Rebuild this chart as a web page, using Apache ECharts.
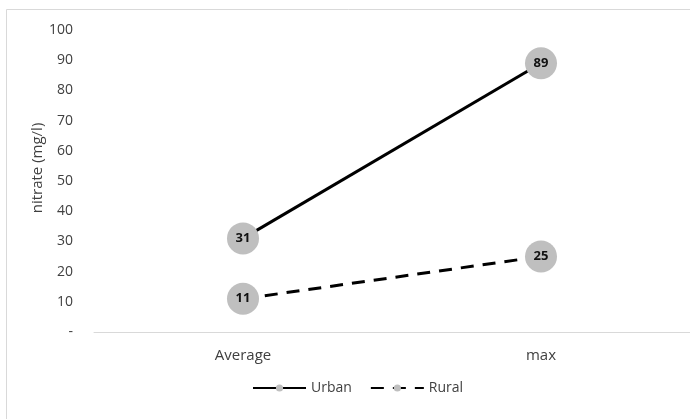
<!DOCTYPE html>
<html>
<head>
<meta charset="utf-8">
<script src="https://cdn.jsdelivr.net/npm/echarts@6/dist/echarts.min.js"></script>
<style>
  html, body { margin: 0; padding: 0; background: #fff; }
  #chart { width: 690px; height: 419px; }
</style>
</head>
<body>
<div id="chart"></div>
<script>
// Nitrate concentration, urban vs rural
const categories = ['Average', 'max'];
const urbanValues = [31, 89];
const ruralValues = [11, 25];
const yTickLabels = { 0: '-' };

const font = '"Open Sans", "Noto Sans", sans-serif';
const textColor = '#404040';
const chart = echarts.init(document.getElementById('chart'), null, { renderer: 'canvas' });

const pointLabel = {
  show: true,
  position: 'inside',
  color: '#111',
  fontWeight: 'bold',
  fontSize: 13,
  fontFamily: font
};

chart.setOption({
  animation: false,
  backgroundColor: '#fff',
  graphic: [
    {
      type: 'rect',
      shape: { x: 6.5, y: 9.5, width: 720, height: 440 },
      style: { fill: 'none', stroke: '#d9d9d9', lineWidth: 1 },
      silent: true
    },
    {
      type: 'text',
      x: 38,
      y: 168,
      rotation: Math.PI / 2,
      style: {
        text: 'nitrate (mg/l)',
        fill: textColor,
        font: '15px ' + font,
        align: 'center',
        verticalAlign: 'middle'
      }
    }
  ],
  grid: { left: 94, width: 602, top: 30, bottom: 87, containLabel: false },
  legend: {
    top: 376,
    left: 247,
    itemWidth: 53,
    itemHeight: 9,
    itemGap: 18,
    textStyle: { color: textColor, fontSize: 14, fontFamily: font },
    data: ['Urban', 'Rural']
  },
  xAxis: {
    type: 'category',
    data: categories,
    axisLine: { lineStyle: { color: '#d9d9d9', width: 1 } },
    axisTick: { show: false },
    axisLabel: { color: textColor, fontSize: 15, fontFamily: font, margin: 16 }
  },
  yAxis: {
    type: 'value',
    min: 0,
    max: 100,
    interval: 10,
    splitLine: { show: false },
    axisLine: { show: false },
    axisTick: { show: false },
    axisLabel: {
      color: textColor,
      fontSize: 14,
      fontFamily: font,
      margin: 21,
      formatter: v => (yTickLabels[v] !== undefined ? yTickLabels[v] : String(v))
    }
  },
  series: [
    {
      name: 'Urban',
      type: 'line',
      data: urbanValues,
      symbol: 'circle',
      symbolSize: 32,
      itemStyle: { color: '#bfbfbf' },
      lineStyle: { color: '#000', width: 3, type: 'solid' },
      label: pointLabel,
      z: 3
    },
    {
      name: 'Rural',
      type: 'line',
      data: ruralValues,
      symbol: 'circle',
      symbolSize: 32,
      itemStyle: { color: '#bfbfbf' },
      lineStyle: { color: '#000', width: 3, type: [13, 9] },
      label: pointLabel,
      z: 3
    }
  ]
});
</script>
</body>
</html>
